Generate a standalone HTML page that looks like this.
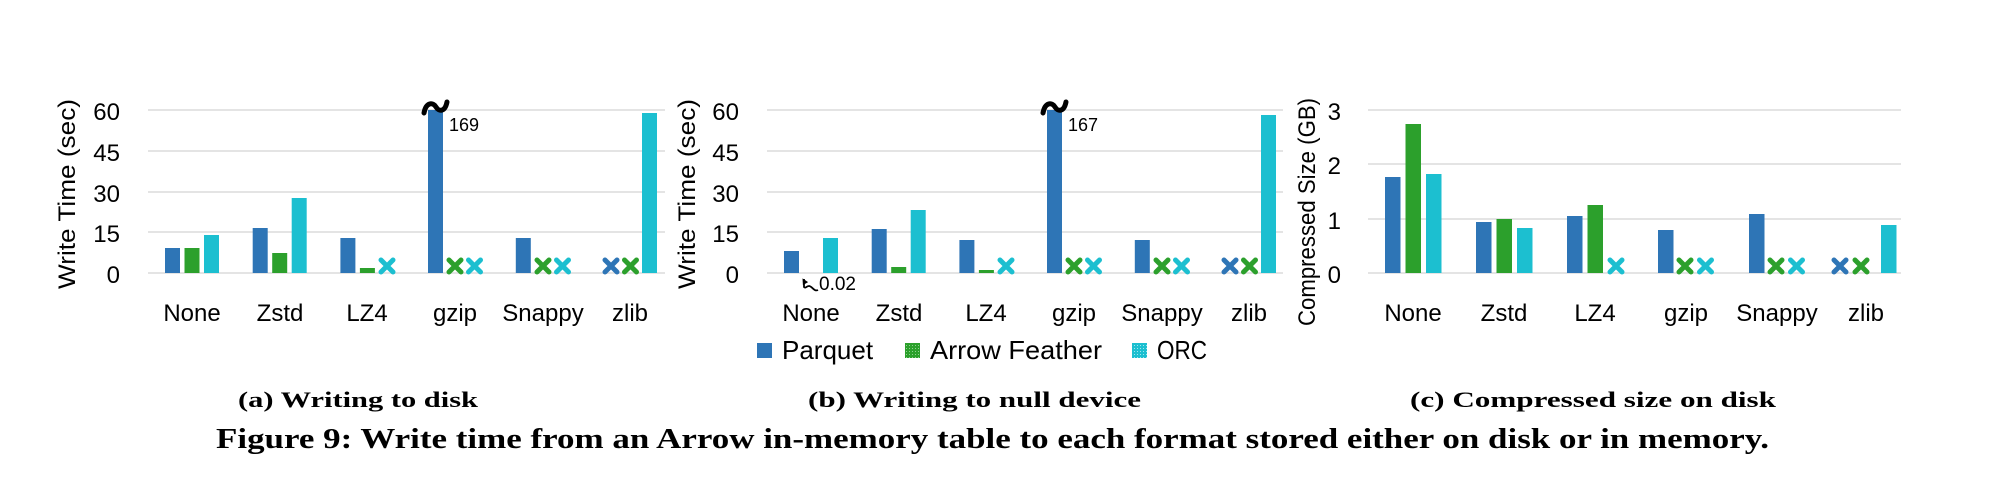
<!DOCTYPE html>
<html><head><meta charset="utf-8"><style>
html,body{margin:0;padding:0;background:#fff;}
svg{display:block;}
.t{font-family:"Liberation Sans",sans-serif;font-size:24px;fill:#000;}
.lg{font-family:"Liberation Sans",sans-serif;font-size:26px;fill:#000;}
.cap{font-family:"Liberation Serif",serif;font-weight:bold;fill:#000;}
</style></head><body>
<svg width="2010" height="482" viewBox="0 0 2010 482" xmlns="http://www.w3.org/2000/svg">
<defs>
<pattern id="pg" width="3" height="3" patternUnits="userSpaceOnUse"><rect width="3" height="3" fill="#2ca02c"/><rect width="1" height="1" fill="#8fd08f"/></pattern>
<pattern id="pc" width="3" height="3" patternUnits="userSpaceOnUse"><rect width="3" height="3" fill="#1cbfd0"/><rect width="1" height="1" fill="#a0e6ee"/></pattern>
</defs>
<g stroke="#e4e4e4" stroke-width="2">
<line x1="148" y1="110" x2="665" y2="110"/><line x1="148" y1="151" x2="665" y2="151"/><line x1="148" y1="192" x2="665" y2="192"/><line x1="148" y1="232" x2="665" y2="232"/><line x1="148" y1="273" x2="665" y2="273"/>
<line x1="767" y1="110" x2="1283" y2="110"/><line x1="767" y1="151" x2="1283" y2="151"/><line x1="767" y1="192" x2="1283" y2="192"/><line x1="767" y1="232" x2="1283" y2="232"/><line x1="767" y1="273" x2="1283" y2="273"/>
<line x1="1368" y1="110" x2="1901" y2="110"/><line x1="1368" y1="164" x2="1901" y2="164"/><line x1="1368" y1="219" x2="1901" y2="219"/><line x1="1368" y1="273" x2="1901" y2="273"/>
</g>
<!-- Chart a bars -->
<g>
<rect x="165" y="248" width="15" height="25" fill="#2e75b6"/><rect x="184.5" y="248" width="15" height="25" fill="#2ca02c"/><rect x="204" y="235" width="15" height="38" fill="#1cbfd0"/>
<rect x="252.7" y="228" width="15" height="45" fill="#2e75b6"/><rect x="272.2" y="253" width="15" height="20" fill="#2ca02c"/><rect x="291.7" y="198" width="15" height="75" fill="#1cbfd0"/>
<rect x="340.4" y="238" width="15" height="35" fill="#2e75b6"/><rect x="359.9" y="268" width="15" height="5" fill="#2ca02c"/>
<rect x="428" y="110" width="15" height="163" fill="#2e75b6"/>
<rect x="515.8" y="238" width="15" height="35" fill="#2e75b6"/>
<rect x="642" y="113" width="15" height="160" fill="#1cbfd0"/>
</g>
<!-- Chart b bars -->
<g>
<rect x="784" y="251" width="15" height="22" fill="#2e75b6"/><rect x="823" y="238" width="15" height="35" fill="#1cbfd0"/>
<rect x="871.7" y="229" width="15" height="44" fill="#2e75b6"/><rect x="891.2" y="267" width="15" height="6" fill="#2ca02c"/><rect x="910.7" y="210" width="15" height="63" fill="#1cbfd0"/>
<rect x="959.4" y="240" width="15" height="33" fill="#2e75b6"/><rect x="978.9" y="270" width="15" height="3" fill="#2ca02c"/>
<rect x="1047" y="110" width="15" height="163" fill="#2e75b6"/>
<rect x="1134.8" y="240" width="15" height="33" fill="#2e75b6"/>
<rect x="1261" y="115" width="15" height="158" fill="#1cbfd0"/>
</g>
<!-- Chart c bars -->
<g>
<rect x="1385" y="177" width="15.5" height="96" fill="#2e75b6"/><rect x="1405.5" y="124" width="15.5" height="149" fill="#2ca02c"/><rect x="1426" y="174" width="15.5" height="99" fill="#1cbfd0"/>
<rect x="1476" y="222" width="15.5" height="51" fill="#2e75b6"/><rect x="1496.5" y="219" width="15.5" height="54" fill="#2ca02c"/><rect x="1517" y="228" width="15.5" height="45" fill="#1cbfd0"/>
<rect x="1567" y="216" width="15.5" height="57" fill="#2e75b6"/><rect x="1587.5" y="205" width="15.5" height="68" fill="#2ca02c"/>
<rect x="1658" y="230" width="15.5" height="43" fill="#2e75b6"/>
<rect x="1749" y="214" width="15.5" height="59" fill="#2e75b6"/>
<rect x="1881" y="225" width="15.5" height="48" fill="#1cbfd0"/>
</g>
<!-- crosses -->
<g stroke-width="5" stroke-linecap="round">
<g stroke="#1cbfd0"><path d="M381 260 l12 12 M393 260 l-12 12"/></g>
<g stroke="#2ca02c"><path d="M449 260 l12 12 M461 260 l-12 12"/></g>
<g stroke="#1cbfd0"><path d="M468.5 260 l12 12 M480.5 260 l-12 12"/></g>
<g stroke="#2ca02c"><path d="M537 260 l12 12 M549 260 l-12 12"/></g>
<g stroke="#1cbfd0"><path d="M556.5 260 l12 12 M568.5 260 l-12 12"/></g>
<g stroke="#2e75b6"><path d="M605 260 l12 12 M617 260 l-12 12"/></g>
<g stroke="#2ca02c"><path d="M624.5 260 l12 12 M636.5 260 l-12 12"/></g>

<g stroke="#1cbfd0"><path d="M1000 260 l12 12 M1012 260 l-12 12"/></g>
<g stroke="#2ca02c"><path d="M1068 260 l12 12 M1080 260 l-12 12"/></g>
<g stroke="#1cbfd0"><path d="M1087.5 260 l12 12 M1099.5 260 l-12 12"/></g>
<g stroke="#2ca02c"><path d="M1156 260 l12 12 M1168 260 l-12 12"/></g>
<g stroke="#1cbfd0"><path d="M1175.5 260 l12 12 M1187.5 260 l-12 12"/></g>
<g stroke="#2e75b6"><path d="M1224 260 l12 12 M1236 260 l-12 12"/></g>
<g stroke="#2ca02c"><path d="M1243.5 260 l12 12 M1255.5 260 l-12 12"/></g>

<g stroke="#1cbfd0"><path d="M1610 260 l12 12 M1622 260 l-12 12"/></g>
<g stroke="#2ca02c"><path d="M1679 260 l12 12 M1691 260 l-12 12"/></g>
<g stroke="#1cbfd0"><path d="M1699.5 260 l12 12 M1711.5 260 l-12 12"/></g>
<g stroke="#2ca02c"><path d="M1770 260 l12 12 M1782 260 l-12 12"/></g>
<g stroke="#1cbfd0"><path d="M1790.5 260 l12 12 M1802.5 260 l-12 12"/></g>
<g stroke="#2e75b6"><path d="M1834 260 l12 12 M1846 260 l-12 12"/></g>
<g stroke="#2ca02c"><path d="M1855 260 l12 12 M1867 260 l-12 12"/></g>
</g>
<!-- tildes -->
<path d="M424 113 C426 102 433 102 436 107 C439 112 445 112 447 102" fill="none" stroke="#000" stroke-width="5" stroke-linecap="round"/>
<path d="M1043 113 C1045 102 1052 102 1055 107 C1058 112 1064 112 1066 102" fill="none" stroke="#000" stroke-width="5" stroke-linecap="round"/>
<text class="t" x="449" y="131" style="font-size:18px">169</text>
<text class="t" x="1068" y="131" style="font-size:18px">167</text>
<!-- 0.02 annotation -->
<path d="M818 290 C814 292 812 286 809 286 C806 286 806 289 804 287 L804 279" fill="none" stroke="#000" stroke-width="1.8"/>
<path d="M804 278 l-3 6 l6 0 z" fill="#000" transform="rotate(-30 804 281)"/>
<text class="t" x="819" y="290" style="font-size:19px">0.02</text>
<!-- tick labels -->
<g class="t" text-anchor="end">
<text x="120" y="120">60</text><text x="120" y="161">45</text><text x="120" y="202">30</text><text x="120" y="242">15</text><text x="120" y="283">0</text>
<text x="739" y="120">60</text><text x="739" y="161">45</text><text x="739" y="202">30</text><text x="739" y="242">15</text><text x="739" y="283">0</text>
<text x="1341" y="120">3</text><text x="1341" y="174">2</text><text x="1341" y="229">1</text><text x="1341" y="283">0</text>
</g>
<!-- axis titles -->
<text class="t" transform="translate(75 194) rotate(-90)" text-anchor="middle" textLength="190" lengthAdjust="spacingAndGlyphs">Write Time (sec)</text>
<text class="t" transform="translate(695 194) rotate(-90)" text-anchor="middle" textLength="190" lengthAdjust="spacingAndGlyphs">Write Time (sec)</text>
<text class="t" transform="translate(1315 212) rotate(-90)" text-anchor="middle" textLength="228" lengthAdjust="spacingAndGlyphs">Compressed Size (GB)</text>
<!-- category labels -->
<g class="t" text-anchor="middle">
<text x="192" y="321">None</text><text x="280" y="321">Zstd</text><text x="367" y="321">LZ4</text><text x="455" y="321">gzip</text><text x="543" y="321">Snappy</text><text x="630" y="321">zlib</text>
<text x="811" y="321">None</text><text x="899" y="321">Zstd</text><text x="986" y="321">LZ4</text><text x="1074" y="321">gzip</text><text x="1162" y="321">Snappy</text><text x="1249" y="321">zlib</text>
<text x="1413" y="321">None</text><text x="1504" y="321">Zstd</text><text x="1595" y="321">LZ4</text><text x="1686" y="321">gzip</text><text x="1777" y="321">Snappy</text><text x="1866" y="321">zlib</text>
</g>
<!-- legend -->
<rect x="757" y="343" width="15" height="15" fill="#2e75b6"/>
<text class="lg" x="782" y="359">Parquet</text>
<rect x="905" y="343" width="15" height="15" fill="url(#pg)"/>
<text class="lg" x="930" y="359" textLength="172" lengthAdjust="spacingAndGlyphs">Arrow Feather</text>
<rect x="1132" y="343" width="15" height="15" fill="url(#pc)"/>
<text class="lg" x="1157" y="359" textLength="50" lengthAdjust="spacingAndGlyphs">ORC</text>
<!-- captions -->
<text class="cap" x="238" y="407" style="font-size:22px" textLength="240" lengthAdjust="spacingAndGlyphs">(a) Writing to disk</text>
<text class="cap" x="808" y="407" style="font-size:22px" textLength="333" lengthAdjust="spacingAndGlyphs">(b) Writing to null device</text>
<text class="cap" x="1410" y="407" style="font-size:22px" textLength="366" lengthAdjust="spacingAndGlyphs">(c) Compressed size on disk</text>
<text class="cap" x="216" y="448" style="font-size:29px" textLength="1553" lengthAdjust="spacingAndGlyphs">Figure 9: Write time from an Arrow in-memory table to each format stored either on disk or in memory.</text>
</svg>
</body></html>
